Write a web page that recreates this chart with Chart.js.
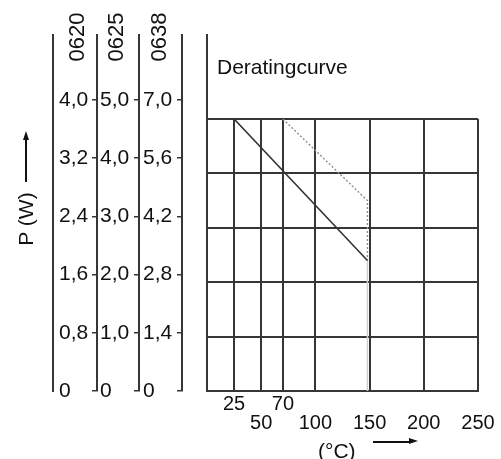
<!DOCTYPE html>
<html>
<head>
<meta charset="utf-8">
<script src="https://cdn.jsdelivr.net/npm/chart.js@4.4.0/dist/chart.umd.min.js"></script>
<style>
  body { margin: 0; background: #fff; }
  #wrap { position: relative; width: 501px; height: 459px; overflow: hidden;
          font-family: 'Liberation Sans', Arial, sans-serif; color: #111; }
  canvas { position: absolute; top: 0; }
  #axesCanvas { left: 0; }
  #plotCanvas { left: 190px; }
  .txt { position: absolute; white-space: nowrap; line-height: 1; }
  .rot { transform: rotate(-90deg); text-align: center; }
  .head { font-size: 22px; width: 60px; height: 24px; line-height: 24px; top: 25px; }
  .vline { position: absolute; left: 25px; top: 139px; width: 1.5px; height: 43px; background: #111; }
  .vhead { position: absolute; left: 22.5px; top: 131px; width: 0; height: 0;
           border-left: 3.5px solid transparent; border-right: 3.5px solid transparent; border-bottom: 9px solid #111; }
  .hline { position: absolute; left: 373px; top: 441px; width: 38px; height: 1.5px; background: #111; }
  .hhead { position: absolute; left: 409px; top: 438.2px; width: 0; height: 0;
           border-top: 3.5px solid transparent; border-bottom: 3.5px solid transparent; border-left: 9px solid #111; }
</style>
</head>
<body>
<div id="wrap">
  <canvas id="axesCanvas" width="210" height="459"></canvas>
  <canvas id="plotCanvas" width="311" height="459"></canvas>

  <div class="txt rot head" style="left:46.5px;">0620</div>
  <div class="txt rot head" style="left:85.5px;">0625</div>
  <div class="txt rot head" style="left:128.5px;">0638</div>

  <div class="txt rot" style="font-size:21px; width:70px; height:24px; line-height:24px; left:-9px; top:206.5px;">P (W)</div>
  <div class="vline"></div><div class="vhead"></div>

  <div class="txt" style="font-size:21px; left:217px; top:55.5px;">Deratingcurve</div>

  <div class="txt" style="font-size:21px; left:318px; top:440px;">(°C)</div>
  <div class="hline"></div><div class="hhead"></div>
</div>

<script>
// Power scales for the three sizes (W)
const ticks0620 = [0, 0.8, 1.6, 2.4, 3.2, 4.0];
const ticks0625 = [0, 1.0, 2.0, 3.0, 4.0, 5.0];
const ticks0638 = [0, 1.4, 2.8, 4.2, 5.6, 7.0];

// Temperature ticks (°C) and plot grid (% of rated power)
const tempTicks = [25, 50, 70, 100, 150, 200, 250];
const powerTicks = [0, 20, 40, 60, 80, 100];

// Derating curves
const solidTemp = [25, 148];
const solidPower = [100, 48];
const dottedTemp = [70, 148, 148];
const dottedPower = [100, 70, 48];
const dropTemp = [148, 148];
const dropPower = [48, 0];

Chart.defaults.font.family = "'Liberation Sans', Arial, sans-serif";
const lineColor = '#363636';
const textColor = '#111';

const fmt = v => v === 0 ? '0' : v.toFixed(1).replace('.', ',');
const toPoints = (xs, ys) => xs.map((x, i) => ({ x: x, y: ys[i] }));

// Left column axis with its own tick list
function powerAxis(tickValues, max, weight, width) {
    return {
        type: 'linear',
        position: 'left',
        weight: weight,
        min: 0,
        max: max,
        afterBuildTicks: s => { s.ticks = tickValues.map(v => ({ value: v })); },
        afterFit: s => { s.width = width; },
        ticks: { crossAlign: 'far', padding: 0, color: textColor, font: { size: 21 }, callback: v => fmt(v) },
        grid: { drawOnChartArea: false, tickLength: 5, color: lineColor, lineWidth: 1.5 },
        border: { display: true, color: lineColor, width: 2 }
    };
}

// Empty axis, only used to take up room (optionally with a border line)
function spacer(position, weight, width, withBorder) {
    return {
        type: 'linear',
        position: position,
        weight: weight,
        min: 0,
        max: 1,
        afterFit: s => { s.width = width; },
        ticks: { display: false },
        grid: { display: false },
        border: { display: !!withBorder, color: lineColor, width: 2 }
    };
}

// 0620 reaches 4,0 at y=100 px, chart area spans 35..391 px
const top0620 = 4.0 * 356 / 291;

new Chart(document.getElementById('axesCanvas').getContext('2d'), {
    type: 'line',
    data: { datasets: [] },
    options: {
        responsive: false,
        animation: false,
        layout: { padding: { top: 35, bottom: 68, left: 0, right: 3 } },
        plugins: { legend: { display: false }, tooltip: { enabled: false } },
        scales: {
            x: { type: 'linear', display: false },
            y0638: powerAxis(ticks0638, top0620 * 7 / 4, 1, 39),
            gap3: spacer('left', 2, 4),
            y0625: powerAxis(ticks0625, top0620 * 5 / 4, 3, 39),
            gap2: spacer('left', 4, 3),
            y0620: powerAxis(ticks0620, top0620, 5, 38),
            gap1: spacer('left', 6, 6),
            edgeL: spacer('left', 7, 53, true),
            edgeR: spacer('right', 1, 0, true)
        }
    }
});

const raised = new Set([25, 70]);

new Chart(document.getElementById('plotCanvas').getContext('2d'), {
    type: 'line',
    data: {
        datasets: [
            { data: toPoints(solidTemp, solidPower), borderColor: '#333', borderWidth: 1.6, pointRadius: 0 },
            { data: toPoints(dottedTemp, dottedPower), borderColor: '#8d8d8d', borderWidth: 1.4, borderDash: [2, 2], pointRadius: 0 },
            { data: toPoints(dropTemp, dropPower), borderColor: '#cfcfcf', borderWidth: 1.5, pointRadius: 0 }
        ]
    },
    options: {
        responsive: false,
        animation: false,
        layout: { padding: { top: 119, right: 23, bottom: 20, left: 0 } },
        plugins: { legend: { display: false }, tooltip: { enabled: false } },
        scales: {
            x: {
                type: 'linear',
                min: 0,
                max: 250,
                afterBuildTicks: s => { s.ticks = tempTicks.map(v => ({ value: v })); },
                afterFit: s => { s.height = 48; },
                ticks: {
                    autoSkip: false,
                    maxRotation: 0,
                    padding: 4,
                    color: textColor,
                    font: { size: 20, lineHeight: '19px' },
                    callback: v => raised.has(v) ? String(v) : ['', String(v)]
                },
                grid: { color: lineColor, lineWidth: 2, drawTicks: false },
                border: { color: lineColor, width: 2 }
            },
            y: {
                type: 'linear',
                min: 0,
                max: 100,
                afterBuildTicks: s => { s.ticks = powerTicks.map(v => ({ value: v })); },
                afterFit: s => { s.width = 17; },
                ticks: { display: false },
                grid: { color: lineColor, lineWidth: 2, drawTicks: false },
                border: { color: lineColor, width: 2 }
            }
        }
    }
});
</script>
</body>
</html>
